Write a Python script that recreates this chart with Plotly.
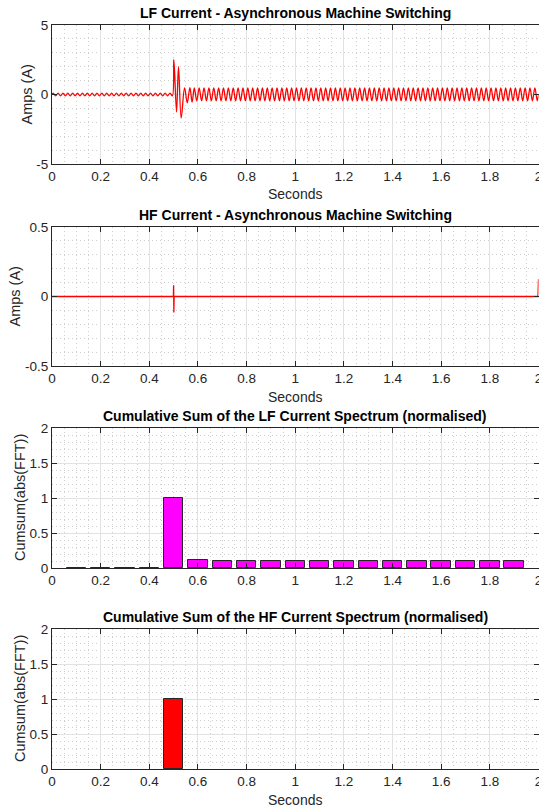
import numpy as np
import plotly.graph_objects as go

# ---------------- data ----------------
# LF current: extrema of the oscillation (A)
lf_half_period = 0.01            # s, ~50 Hz
lf_pre_amp = 0.10                # amplitude before switching
lf_trans_t = [0.501, 0.512, 0.520, 0.531, 0.545, 0.556, 0.567, 0.576]
lf_trans_i = [2.50, -1.26, 2.00, -1.69, 0.48, -0.60, 0.50, -0.55]
lf_post_peak = 0.48
lf_post_trough = -0.45

# HF current (A)
hf_t = [0.0, 0.499, 0.500, 0.501, 0.502, 1.998, 2.0]
hf_i = [0.0, 0.0, 0.08, -0.115, 0.0, 0.0, 0.125]

# Cumulative sum bars (normalised)
bar_t = [0.1, 0.2, 0.3, 0.4, 0.5, 0.6, 0.7, 0.8, 0.9, 1.0,
         1.1, 1.2, 1.3, 1.4, 1.5, 1.6, 1.7, 1.8, 1.9]
lf_cumsum = [0.002, 0.002, 0.002, 0.002, 1.0, 0.115, 0.105, 0.105, 0.105, 0.105,
             0.105, 0.105, 0.105, 0.105, 0.105, 0.105, 0.105, 0.105, 0.105]
hf_bar_t = [0.5]
hf_cumsum = [1.0]

titles = ["LF Current - Asynchronous Machine Switching",
          "HF Current - Asynchronous Machine Switching",
          "Cumulative Sum of the LF Current Spectrum (normalised)",
          "Cumulative Sum of the HF Current Spectrum (normalised)"]

# ---------------- build LF extrema sequence ----------------
pre_t = list(np.arange(0.005, 0.5, lf_half_period))
pre_i = [lf_pre_amp if k % 2 == 0 else -lf_pre_amp for k in range(len(pre_t))]
post_t = list(np.arange(0.585, 2.0, lf_half_period))
post_i = [lf_post_peak if k % 2 == 0 else lf_post_trough for k in range(len(post_t))]
lf_t = [0.0] + pre_t + lf_trans_t + post_t + [2.0]
lf_i = [0.0] + pre_i + lf_trans_i + post_i + [0.0]

# ---------------- layout ----------------
W, H = 539, 806
FONT = "Liberation Sans, Arial, Helvetica, sans-serif"
TICK = "#262626"
GRID = "#e2e2e2"
MINOR = "#cdcdcd"

# plot boxes in pixels: (top, bottom)
boxes = [(25, 164), (227, 366), (428, 568), (629, 769)]
x_left, x_right = 52, 538.5

fig = go.Figure()

fig.add_trace(go.Scatter(x=lf_t, y=lf_i, mode="lines", xaxis="x", yaxis="y",
                         line=dict(color="#ff0000", width=1.3, shape="spline"),
                         showlegend=False))
fig.add_trace(go.Scatter(x=hf_t, y=hf_i, mode="lines", xaxis="x2", yaxis="y2",
                         line=dict(color="#ff0000", width=1.3), showlegend=False))
fig.add_trace(go.Bar(x=bar_t, y=lf_cumsum, width=0.08, xaxis="x3", yaxis="y3",
                     marker=dict(color="#ff00ff", line=dict(color="#262626", width=1)),
                     showlegend=False))
fig.add_trace(go.Bar(x=hf_bar_t, y=hf_cumsum, width=0.08, xaxis="x4", yaxis="y4",
                     marker=dict(color="#ff0000", line=dict(color="#262626", width=1)),
                     showlegend=False))

yconf = [
    dict(range=[-5, 5], tickvals=[-5, 0, 5], ticktext=["-5", "0", "5"], minor_dtick=1),
    dict(range=[-0.5, 0.5], tickvals=[-0.5, 0, 0.5], ticktext=["-0.5", "0", "0.5"], minor_dtick=0.1),
    dict(range=[0, 2], tickvals=[0, 0.5, 1, 1.5, 2], ticktext=["0", "0.5", "1", "1.5", "2"], minor_dtick=0.1),
    dict(range=[0, 2], tickvals=[0, 0.5, 1, 1.5, 2], ticktext=["0", "0.5", "1", "1.5", "2"], minor_dtick=0.1),
]

layout = dict(width=W, height=H, autosize=False,
              margin=dict(l=0, r=0, t=0, b=0, pad=0),
              paper_bgcolor="white", plot_bgcolor="white",
              font=dict(family=FONT, size=13.5, color=TICK),
              bargap=0, annotations=[])

for k, (top, bot) in enumerate(boxes):
    sfx = "" if k == 0 else str(k + 1)
    ydom = [(H - bot) / H, (H - top) / H]
    layout["xaxis" + sfx] = dict(
        domain=[x_left / W, x_right / W], range=[0, 2], anchor="y" + sfx, automargin=False,
        tickmode="array", tickvals=[0, 0.2, 0.4, 0.6, 0.8, 1, 1.2, 1.4, 1.6, 1.8, 2],
        ticktext=["0", "0.2", "0.4", "0.6", "0.8", "1", "1.2", "1.4", "1.6", "1.8", "2"],
        ticks="inside", ticklen=5, tickwidth=1, tickcolor=TICK,
        showline=True, linecolor=TICK, linewidth=1, mirror="ticks",
        showgrid=True, gridcolor=GRID, gridwidth=1, zeroline=False,
        minor=dict(dtick=0.05, showgrid=True, gridcolor=MINOR, griddash="1px,3px", gridwidth=1, ticks=""),
        ticklabeloverflow="allow",
        tickfont=dict(size=13.5, color=TICK, family=FONT), fixedrange=True)
    yc = yconf[k]
    layout["yaxis" + sfx] = dict(
        domain=ydom, range=yc["range"], anchor="x" + sfx, automargin=False,
        tickmode="array", tickvals=yc["tickvals"], ticktext=yc["ticktext"],
        ticks="inside", ticklen=5, tickwidth=1, tickcolor=TICK,
        showline=True, linecolor=TICK, linewidth=1, mirror="ticks",
        showgrid=True, gridcolor=GRID, gridwidth=1, zeroline=False,
        minor=dict(dtick=yc["minor_dtick"], tick0=yc["range"][0], showgrid=True,
                   gridcolor=MINOR, griddash="1px,3px", gridwidth=1, ticks=""),
        ticklabeloverflow="allow",
        tickfont=dict(size=13.5, color=TICK, family=FONT), fixedrange=True)

    # title
    layout["annotations"].append(dict(
        text="<b>" + titles[k] + "</b>", x=(x_left + x_right) / 2 / W, y=(H - (top - 12)) / H,
        xref="paper", yref="paper", showarrow=False, xanchor="center", yanchor="middle",
        font=dict(size=14, color="black", family=FONT)))

ylabel_x = [26, 15, 20, 20]
ylabels = ["Amps (A)", "Amps (A)", "Cumsum(abs(FFT))", "Cumsum(abs(FFT))"]
for k, (top, bot) in enumerate(boxes):
    layout["annotations"].append(dict(
        text=ylabels[k], x=ylabel_x[k] / W, y=(H - (top + bot) / 2) / H,
        xref="paper", yref="paper", showarrow=False, textangle=-90,
        xanchor="center", yanchor="middle", font=dict(size=14.5, color=TICK, family=FONT)))

# x labels (the third one is hidden behind the fourth panel title in the reference)
for yc in [194, 397, 800]:
    layout["annotations"].append(dict(
        text="Seconds", x=(x_left + x_right) / 2 / W, y=(H - yc) / H,
        xref="paper", yref="paper", showarrow=False, xanchor="center", yanchor="middle",
        font=dict(size=14, color=TICK, family=FONT)))

fig.update_layout(**layout)
fig.write_html("out.html", config=dict(displayModeBar=False))
